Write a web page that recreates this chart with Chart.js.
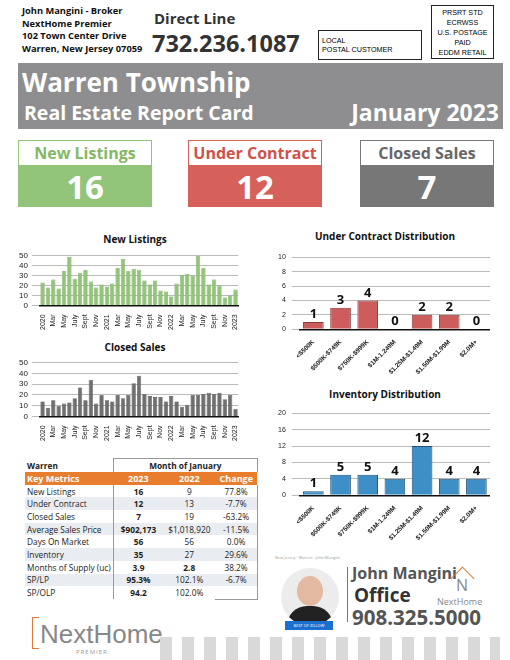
<!DOCTYPE html>
<html lang="en">
<head>
<meta charset="UTF-8">
<title>Warren Township Real Estate Report Card</title>
<script src="https://cdn.jsdelivr.net/npm/chart.js"></script>
<style>
  body { margin: 0; width: 510px; height: 660px; position: relative; background: #fff; font-family: "Open Sans", sans-serif; overflow: hidden; }
  .abs { position: absolute; }
  .agent { left: 22px; top: 5px; font-size: 9.3px; font-weight: bold; line-height: 12.5px; color: #111; }
  .stamp { left: 431px; top: 5px; width: 63px; height: 54px; border: 1px solid #222; font-family: "Liberation Sans", sans-serif; font-size: 7.2px; text-align: center; line-height: 10px; padding-top: 2px; box-sizing: border-box; }
  .local { left: 318px; top: 30px; width: 104px; height: 30px; border: 1px solid #222; font-family: "Liberation Sans", sans-serif; font-size: 7.2px; line-height: 9px; padding: 5px 0 0 3px; box-sizing: border-box; }
  .banner { left: 18px; top: 63px; width: 485px; height: 66px; background: #8e8e90; color: #fff; font-weight: bold; }
  .kpi { top: 140px; width: 134px; height: 67px; }
  .kpi .t { height: 26px; border: 1px solid; box-sizing: border-box; background: #fff; text-align: center; font-size: 16px; font-weight: bold; line-height: 24px; }
  .kpi .v { height: 41px; color: #fff; text-align: center; font-size: 33px; font-weight: bold; line-height: 41px; }
  table { border-collapse: collapse; font-size: 8.3px; color: #222; }
  td { padding: 0 2px; height: 12.7px; white-space: nowrap; }
  .ctitle { font-weight: bold; font-size: 10px; text-align: center; color: #111; }
</style>
</head>
<body>
<div class="abs agent">John Mangini - Broker<br>NextHome Premier<br>102 Town Center Drive<br>Warren, New Jersey 07059</div>
<div class="abs" style="left:154px;top:8px;font-size:15px;font-weight:bold;color:#333;">Direct Line</div>
<div class="abs" style="left:152px;top:27px;font-size:23.5px;font-weight:bold;color:#333;">732.236.1087</div>
<div class="abs local">LOCAL<br>POSTAL CUSTOMER</div>
<div class="abs stamp">PRSRT STD<br>ECRWSS<br>U.S. POSTAGE<br>PAID<br>EDDM RETAIL</div>
<div class="abs banner">
  <div class="abs" style="left:4px;top:1px;font-size:26px;">Warren Township</div>
  <div class="abs" style="left:6px;top:36px;font-size:19.5px;">Real Estate Report Card</div>
  <div class="abs" style="right:4px;top:33px;font-size:23px;">January 2023</div>
</div>

<div class="abs kpi" style="left:18px;"><div class="t" style="border-color:#92c47a;color:#84b864;">New Listings</div><div class="v" style="background:#92c47a;">16</div></div>
<div class="abs kpi" style="left:188px;"><div class="t" style="border-color:#d6605a;color:#d0504a;">Under Contract</div><div class="v" style="background:#d6605a;">12</div></div>
<div class="abs kpi" style="left:360px;"><div class="t" style="border-color:#777;color:#666;">Closed Sales</div><div class="v" style="background:#777;">7</div></div>

<div class="abs ctitle" style="left:15px;top:232px;width:240px;">New Listings</div>
<div class="abs" style="left:15px;top:247px;width:230px;height:84px;"><canvas id="newChart"></canvas></div>
<div class="abs ctitle" style="left:15px;top:340px;width:240px;">Closed Sales</div>
<div class="abs" style="left:15px;top:354px;width:230px;height:88px;"><canvas id="closedChart"></canvas></div>
<div class="abs ctitle" style="left:265px;top:229px;width:240px;">Under Contract Distribution</div>
<div class="abs" style="left:272px;top:247px;width:218px;height:130px;"><canvas id="ucChart"></canvas></div>
<div class="abs ctitle" style="left:265px;top:387px;width:240px;">Inventory Distribution</div>
<div class="abs" style="left:272px;top:403px;width:218px;height:140px;"><canvas id="invChart"></canvas></div>

<div class="abs" style="left:25px;top:458px;">
<table id="metrics"></table>
</div>

<div class="abs" style="left:275px;top:555px;font-size:4px;color:#999;">New Jersey · Warren · John Mangini</div>
<div class="abs" style="left:281px;top:568px;width:58px;height:58px;border-radius:50%;background:#ececec;overflow:hidden;">
  <div class="abs" style="left:16px;top:8px;width:26px;height:30px;border-radius:50%;background:#e4b9a2;"></div>
  <div class="abs" style="left:6px;top:38px;width:46px;height:24px;border-radius:20px 20px 0 0;background:#222;"></div>
</div>
<div class="abs" style="left:285px;top:621px;width:48px;height:9px;background:#1a6fd0;color:#fff;font-size:4px;line-height:9px;text-align:center;">BEST OF ZILLOW</div>
<div class="abs" style="left:347px;top:567px;width:1px;height:55px;background:#777;"></div>
<div class="abs" style="left:352px;top:562px;font-size:16px;font-weight:bold;color:#555;">John Mangini</div>
<div class="abs" style="left:354px;top:582px;font-size:19px;font-weight:bold;color:#333;">Office</div>
<div class="abs" style="left:352px;top:603px;font-size:20.5px;font-weight:bold;color:#555;">908.325.5000</div>
<div class="abs" style="left:454px;top:570px;width:16px;height:16px;border-top:1.5px solid #e07b3a;border-left:1.5px solid #e07b3a;transform:rotate(45deg);"></div>
<div class="abs" style="left:456px;top:574px;font-size:16px;color:#888;">N</div>
<div class="abs" style="left:437px;top:595px;font-size:9px;color:#888;">NextHome</div>
<div class="abs" style="left:32px;top:617px;width:6px;height:30px;border:1.5px solid #e07b3a;border-right:none;"></div>
<div class="abs" style="left:40px;top:619px;font-size:26px;color:#888;font-family:'Liberation Sans',sans-serif;">NextHome</div>
<div class="abs" style="left:76px;top:648px;font-size:6px;color:#999;letter-spacing:1px;">PREMIER</div>
<div class="abs" style="left:160px;top:637px;width:340px;height:23px;background:repeating-linear-gradient(90deg,#d9d9d9 0 12px,#fff 12px 22px);"></div>

<script>
// monthly series Jan 2020 - Jan 2023
const monthLabels = ['2020','','Mar','','May','','July','','Sept','','Nov','',
  '2021','','Mar','','May','','July','','Sept','','Nov','',
  '2022','','Mar','','May','','July','','Sept','','Nov','','2023'];
const newListings = [23,18,26,17,35,49,27,33,36,24,18,21,19,22,38,47,35,37,36,25,21,25,15,14,9,22,31,32,30,50,38,21,26,20,8,10,16];
const closedSales = [14,8,15,10,12,13,17,27,15,34,12,20,15,14,20,17,20,31,38,21,19,18,18,14,19,14,9,11,20,20,21,22,21,22,16,20,7];

const priceBands = ['<$500K','$500K-$749K','$750K-$999K','$1M-1.249M','$1.25M-$1.49M','$1.50M-$1.99M','$2.0M+'];
const underContractDist = [1,3,4,0,2,2,0];
const inventoryDist = [1,5,5,4,12,4,4];

const metricNames = ['New Listings','Under Contract','Closed Sales','Average Sales Price','Days On Market','Inventory','Months of Supply (uc)','SP/LP','SP/OLP'];
const metrics2023 = ['16','12','7','$902,173','56','35','3.9','95.3%','94.2'];
const metrics2022 = ['9','13','19','$1,018,920','56','27','2.8','102.1%','102.0%'];
const metricChange = ['77.8%','-7.7%','-63.2%','-11.5%','0.0%','29.6%','38.2%','-6.7%',''];

const tick = { color: '#222', font: { size: 7, family: 'Liberation Sans' } };

function monthChart(id, data, color, border) {
  new Chart(document.getElementById(id), {
    type: 'bar',
    data: { labels: monthLabels, datasets: [{ data, backgroundColor: color, borderColor: border, borderWidth: 0.6, categoryPercentage: 1, barPercentage: 0.8 }] },
    options: {
      responsive: true, maintainAspectRatio: false, animation: false,
      plugins: { legend: { display: false }, tooltip: { enabled: false } },
      layout: { padding: { right: 4 } },
      scales: {
        x: { grid: { display: false }, border: { color: '#111', width: 1.5 },
             ticks: { ...tick, autoSkip: false, maxRotation: 90, minRotation: 90, padding: 1 } },
        y: { min: 0, max: 50, ticks: { ...tick, stepSize: 10, autoSkip: false, padding: 4, font: { size: 8, family: 'Liberation Sans' } },
             grid: { color: '#bbb' }, border: { display: false } }
      }
    }
  });
}
monthChart('newChart', newListings, '#92c47a', '#6e9e55');
monthChart('closedChart', closedSales, '#6f6f6f', '#4a4a4a');

const valueLabels = {
  id: 'valueLabels',
  afterDatasetsDraw(chart) {
    const ctx = chart.ctx;
    const meta = chart.getDatasetMeta(0);
    ctx.save();
    ctx.font = 'bold 13px "Open Sans"';
    ctx.fillStyle = '#111';
    ctx.textAlign = 'center';
    ctx.textBaseline = 'bottom';
    meta.data.forEach((bar, i) => {
      ctx.fillText(chart.data.datasets[0].data[i], bar.x, bar.y - 1);
    });
    ctx.restore();
  }
};

function distChart(id, data, color, border, max, step) {
  new Chart(document.getElementById(id), {
    type: 'bar',
    data: { labels: priceBands, datasets: [{ data, backgroundColor: color, borderColor: border, borderWidth: 1, categoryPercentage: 1, barPercentage: 0.76 }] },
    options: {
      responsive: true, maintainAspectRatio: false, animation: false,
      plugins: { legend: { display: false }, tooltip: { enabled: false } },
      scales: {
        x: { grid: { display: false }, border: { color: '#111', width: 1.5 },
             ticks: { ...tick, font: { size: 6.5, family: 'Liberation Sans', weight: 'bold' }, autoSkip: false, maxRotation: 45, minRotation: 45, padding: 1 } },
        y: { min: 0, max, ticks: { ...tick, stepSize: step, autoSkip: false, padding: 6 }, grid: { color: '#bbb' }, border: { display: false } }
      }
    },
    plugins: [valueLabels]
  });
}
distChart('ucChart', underContractDist, '#cd5c5c', '#8a3a3a', 10, 2);
distChart('invChart', inventoryDist, '#3d8fc6', '#1f4f75', 20, 4);

// metrics table
const tbl = document.getElementById('metrics');
let html = '<tr><td style="font-weight:bold;width:82px;">Warren</td><td colspan="3" style="font-weight:bold;text-align:center;border:1px solid #999;border-bottom:none;">Month of January</td></tr>';
html += '<tr style="background:#e87e2d;color:#fff;font-weight:bold;font-size:9px;"><td>Key Metrics</td><td style="text-align:center;width:46px;">2023</td><td style="text-align:center;width:48px;">2022</td><td style="text-align:center;width:38px;">Change</td></tr>';
metricNames.forEach((n, i) => {
  const bg = i % 2 ? '#e9edf2' : '#fff';
  const b22 = i === 6 ? 'font-weight:bold;' : '';
  html += `<tr style="background:${bg}"><td>${n}</td><td style="text-align:center;font-weight:bold;border-left:1px solid #999;">${metrics2023[i]}</td><td style="text-align:center;${b22}">${metrics2022[i]}</td><td style="text-align:center;border-right:1px solid #999;${i === 8 ? 'border-bottom:1px solid #999;' : ''}">${metricChange[i]}</td></tr>`;
});
tbl.innerHTML = html;
</script>
</body>
</html>
